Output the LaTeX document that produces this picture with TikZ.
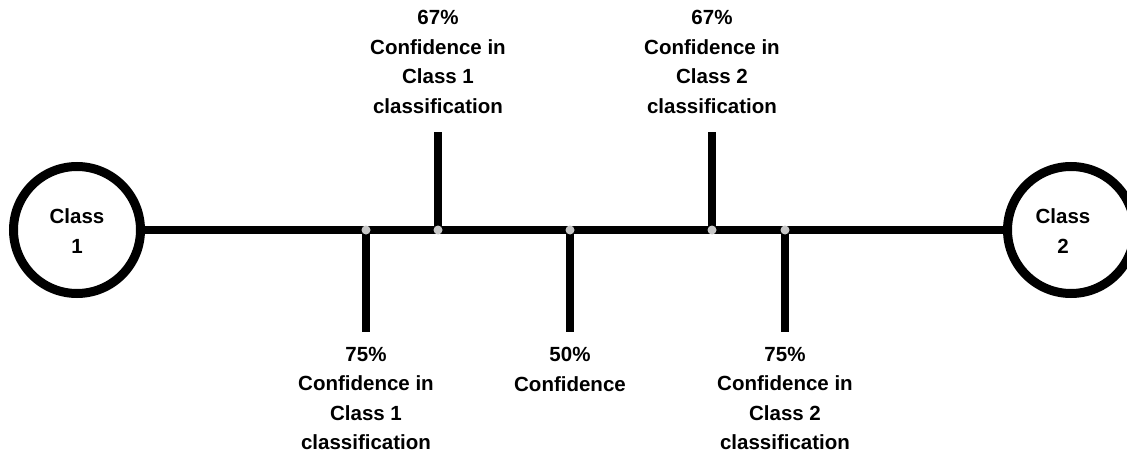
\documentclass[tikz,border=0pt]{standalone}
\usepackage{fontspec}
\setmainfont{Liberation Sans}
\begin{document}
\begin{tikzpicture}[x=1pt,y=-1pt,
  classnode/.style={circle,draw=black,line width=9pt,fill=white,minimum size=127pt,inner sep=0pt},
  classtext/.style={font=\bfseries\fontsize{20.5}{29.5}\selectfont,align=center,inner sep=0pt},
  axis/.style={line width=8pt,black},
  tick/.style={line width=8pt,black},
  junction/.style={circle,fill=black!22,minimum size=9pt,inner sep=0pt},
  label/.style={font=\bfseries\fontsize{20.5}{29.5}\selectfont,align=center,inner sep=0pt,anchor=north}]
\useasboundingbox (0,0) rectangle (1127,460);

% end classes
\node[classnode] (c1) at (77,230) {};
\node[classnode] (c2) at (1071,230) {};
\node[classtext] (c1t) at (77,231) {Class\\1};
\node[classtext] (c2t) at (1063,231) {Class\\2};

% main axis
\draw[axis] (c1) -- (c2);

% junction positions on the axis
\coordinate (j1) at (366,230);
\coordinate (j2) at (438,230);
\coordinate (j3) at (570,230);
\coordinate (j4) at (712,230);
\coordinate (j5) at (785,230);

% tick ends
\coordinate (e1) at (366,332);
\coordinate (e2) at (438,132);
\coordinate (e3) at (570,332);
\coordinate (e4) at (712,132);
\coordinate (e5) at (785,332);

\draw[tick] (j1) -- (e1);
\draw[tick] (j2) -- (e2);
\draw[tick] (j3) -- (e3);
\draw[tick] (j4) -- (e4);
\draw[tick] (j5) -- (e5);

% grey dots drawn over the joints
\foreach \j in {j1,j2,j3,j4,j5}
  \node[junction] at (\j) {};

% labels
\node[label] (l2) at (438,10) {67\%\\Confidence in\\Class 1\\classification};
\node[label] (l4) at (712,10) {67\%\\Confidence in\\Class 2\\classification};
\node[label] (l1) at (366,347) {75\%\\Confidence in\\Class 1\\classification};
\node[label] (l3) at (570,347) {50\%\\Confidence};
\node[label] (l5) at (785,347) {75\%\\Confidence in\\Class 2\\classification};
\end{tikzpicture}
\end{document}
